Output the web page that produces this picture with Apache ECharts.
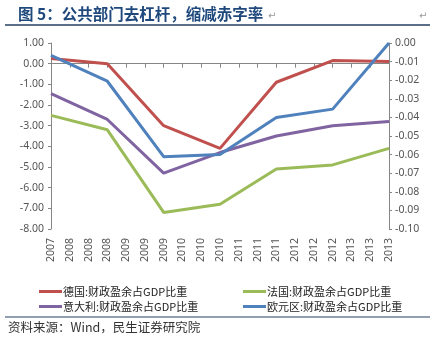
<!DOCTYPE html>
<html><head><meta charset="utf-8">
<script src="https://cdn.jsdelivr.net/npm/echarts@6/dist/echarts.min.js"></script>
<style>html,body{margin:0;padding:0;background:#fff}#c{width:433px;height:348px}</style>
</head><body><div id="c"></div>
<script>
var xLabels = ['2007','2008','2008','2008','2009','2009','2009','2010','2010','2010','2011','2011','2011','2012','2012','2012','2013','2013','2013'];
var years = ['2007','2008','2009','2010','2011','2012','2013'];
var germany = [0.25, 0.0, -3.0, -4.1, -0.9, 0.15, 0.1];
var france = [-2.5, -3.2, -7.2, -6.8, -5.1, -4.9, -4.1];
var italy = [-1.45, -2.7, -5.3, -4.3, -3.5, -3.0, -2.8];
var euro = [0.4, -0.85, -4.5, -4.4, -2.6, -2.2, 1.0];
var seriesNames = ['德国:财政盈余占GDP比重','法国:财政盈余占GDP比重','意大利:财政盈余占GDP比重','欧元区:财政盈余占GDP比重'];
var colors = ['#c0504d','#9bbb59','#8064a2','#4f81bd'];
var leftTicks = {min:-8, max:1, interval:1};
var rightTicks = {min:-0.1, max:0, interval:0.01};

function place(vals){
  var out = [];
  for (var i=0;i<xLabels.length;i++) out.push(null);
  for (var k=0;k<vals.length;k++) out[k*3] = vals[k];
  return out;
}
var font = 'Noto Sans';
var cjk = '"Noto Sans CJK SC"';
var chart = echarts.init(document.getElementById('c'), null, {renderer:'canvas'});
var allData = [germany, france, italy, euro];
var series = allData.map(function(d,i){
  return {name:seriesNames[i], type:'line', xAxisIndex:0, yAxisIndex:0, data:place(d),
    connectNulls:true, showSymbol:false, symbol:'none', smooth:false,
    lineStyle:{width:3, color:colors[i]}, itemStyle:{color:colors[i]}, animation:false};
});
var legendCommon = {orient:'vertical', itemWidth:23, itemHeight:3, itemGap:4, icon:'rect',
  textStyle:{fontSize:11, color:'#222', fontFamily:cjk, padding:[0,0,0,-4]}, padding:0};
chart.setOption({
  animation:false,
  grid:{left:51, right:44, top:43, bottom:119, containLabel:false},
  xAxis:[
    {type:'category', data:xLabels, boundaryGap:false, position:'bottom',
      axisLine:{show:false, onZero:false}, axisTick:{show:false},
      axisLabel:{rotate:90, interval:0, fontSize:10.5, color:'#555', fontFamily:font, margin:9}},
    {type:'category', data:xLabels, boundaryGap:false, position:'bottom',
      axisLine:{show:true, onZero:true, onZeroAxisIndex:0, lineStyle:{color:'#868686', width:1}},
      axisTick:{show:true, interval:0, length:4, lineStyle:{color:'#868686'}},
      axisLabel:{show:false}, splitLine:{show:false}}
  ],
  yAxis:[
    {type:'value', position:'left', min:leftTicks.min, max:leftTicks.max, interval:leftTicks.interval,
      axisLine:{show:true, lineStyle:{color:'#868686'}}, axisTick:{show:true, length:3, lineStyle:{color:'#868686'}},
      splitLine:{show:false},
      axisLabel:{fontSize:10.5, color:'#555', fontFamily:font, margin:7, formatter:function(v){return v.toFixed(2);}}},
    {type:'value', position:'right', min:rightTicks.min, max:rightTicks.max, interval:rightTicks.interval,
      axisLine:{show:true, lineStyle:{color:'#868686'}}, axisTick:{show:true, length:3, lineStyle:{color:'#868686'}},
      splitLine:{show:false},
      axisLabel:{fontSize:10.5, color:'#555', fontFamily:font, margin:6, formatter:function(v){var s=(Math.round(v*100)/100).toFixed(2); return s==='-0.00'?'0.00':s;}}}
  ],
  legend:[
    Object.assign({left:39, top:286, data:[seriesNames[0], seriesNames[2]]}, legendCommon),
    Object.assign({left:243, top:286, data:[seriesNames[1], seriesNames[3]]}, legendCommon)
  ],
  graphic:[
    {type:'text', left:18, top:6, style:{text:'图 5：公共部门去杠杆，缩减赤字率', font:'bold 15.5px "Noto Sans CJK SC"', fill:'#1f497d'}},
    {type:'text', left:268, top:11, style:{text:'↵', font:'10px "DejaVu Sans"', fill:'#999'}},
    {type:'text', left:419, top:11, style:{text:'↵', font:'10px "DejaVu Sans"', fill:'#999'}},
    {type:'line', shape:{x1:5, y1:25, x2:430, y2:25}, style:{stroke:'#243f60', lineWidth:1.5}},
    {type:'line', shape:{x1:5, y1:317, x2:430, y2:317}, style:{stroke:'#243f60', lineWidth:1}},
    {type:'text', left:8, top:321, style:{text:'资料来源：Wind，民生证券研究院', font:'12.5px "Noto Sans CJK SC"', fill:'#333'}}
  ],
  series:series
});
</script></body></html>
